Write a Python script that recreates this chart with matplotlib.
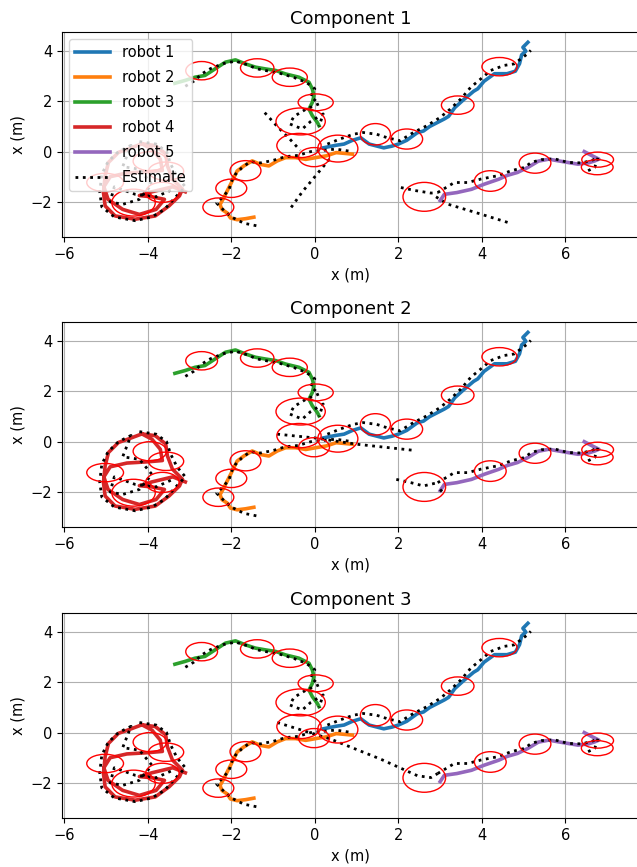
import matplotlib
matplotlib.use("Agg")
import matplotlib.pyplot as plt
from matplotlib.patches import Ellipse

robot1_x = [0.2, 0.5, 0.7, 0.9, 1.1, 1.3, 1.65, 1.85, 2.0, 2.2, 2.45, 2.6, 2.75, 3.1, 3.2, 3.35, 3.55, 3.8, 3.9, 4.05, 4.3, 4.6, 4.8, 4.9, 4.95, 5.05, 4.98, 5.1]
robot1_y = [0.15, 0.25, 0.3, 0.45, 0.55, 0.3, 0.15, 0.22, 0.3, 0.45, 0.75, 0.82, 1.0, 1.3, 1.4, 1.75, 2.05, 2.4, 2.5, 2.8, 3.1, 3.1, 3.2, 3.5, 3.85, 4.0, 4.15, 4.35]

robot2_x = [-1.46, -1.66, -1.86, -2.02, -2.1, -2.22, -2.27, -2.18, -2.1, -2.02, -1.94, -1.86, -1.7, -1.5, -1.3, -1.1, -0.9, -0.7, -0.46, -0.22, 0.02, 0.27, 0.51, 0.9]
robot2_y = [-2.61, -2.67, -2.71, -2.64, -2.44, -2.31, -2.11, -1.84, -1.57, -1.31, -1.04, -0.77, -0.57, -0.37, -0.51, -0.57, -0.37, -0.24, -0.24, -0.31, -0.24, -0.17, -0.04, -0.1]

robot3_x = [-3.35, -3.11, -2.87, -2.63, -2.39, -2.14, -1.9, -1.66, -1.42, -1.18, -0.94, -0.7, -0.38, -0.14, -0.06, -0.02, -0.06, -0.14, -0.06, 0.06, 0.1]
robot3_y = [2.72, 2.83, 2.96, 3.03, 3.29, 3.56, 3.65, 3.49, 3.36, 3.29, 3.23, 3.09, 2.96, 2.76, 2.49, 2.23, 1.96, 1.69, 1.43, 1.16, 1.03]

robot4_x = [-4.14, -3.82, -3.57, -3.53, -3.41, -3.17, -3.24, -3.49, -3.82, -4.3, -4.78, -5.02, -5.06, -5.02, -4.94, -4.7, -4.46, -4.14,
            -3.9, -3.7, -3.65, -4.0, -4.5, -4.9, -5.05, -4.95, -4.6, -4.2, -3.8, -3.6, -3.9, -4.2, -3.9, -3.4, -3.1]
robot4_y = [0.31, 0.24, -0.09, -0.56, -1.09, -1.49, -1.76, -2.16, -2.56, -2.69, -2.56, -2.16, -1.63, -0.96, -0.43, -0.03, 0.11, 0.31,
            0.1, -0.3, -0.75, -0.8, -0.85, -1.0, -1.4, -1.9, -2.3, -2.5, -2.3, -1.9, -1.8, -1.75, -1.6, -1.4, -1.6]

robot5_x = [3.0, 3.1, 3.4, 3.75, 4.05, 4.4, 4.6, 4.85, 5.1, 5.35, 5.6, 5.8, 6.05, 6.3, 6.55, 6.7, 6.8, 6.62, 6.45]
robot5_y = [-1.95, -1.7, -1.63, -1.5, -1.3, -1.1, -0.95, -0.83, -0.63, -0.38, -0.3, -0.36, -0.43, -0.5, -0.45, -0.37, -0.3, -0.15, 0.0]

# estimated tracks (shared by all components)
est1_x = [0.3, 0.6, 0.92, 1.16, 1.48, 1.72, 2.04, 2.2, 2.36, 2.68, 3.0, 3.24, 3.49, 3.6, 3.73, 3.97, 4.21, 4.53, 4.77, 4.93, 5.09, 5.17]
est1_y = [0.3, 0.5, 0.69, 0.76, 0.69, 0.56, 0.43, 0.6, 0.76, 1.03, 1.36, 1.69, 2.09, 2.3, 2.56, 2.89, 3.23, 3.43, 3.49, 3.69, 3.89, 4.03]

est2_x = [-1.4, -1.7, -2.0, -2.2, -2.35, -2.2, -2.05, -2.0, -1.9, -1.75, -1.55, -1.3, -1.0, -0.7, -0.4, -0.1, 0.2, 0.5, 0.9]
est2_y = [-2.95, -2.85, -2.6, -2.3, -2.05, -1.8, -1.5, -1.2, -0.9, -0.65, -0.4, -0.45, -0.35, -0.2, -0.15, 0.0, 0.05, 0.1, 0.0]

est3_x = [-3.1, -2.9, -2.7, -2.5, -2.2, -1.9, -1.6, -1.4, -1.1, -0.8, -0.5, -0.2, 0.0, -0.1, 0.1, -0.2, -0.5, -0.6, -0.3, -0.1, 0.2, 0.1]
est3_y = [2.6, 2.8, 3.1, 3.3, 3.5, 3.6, 3.45, 3.3, 3.2, 3.1, 2.95, 2.75, 2.5, 2.2, 1.9, 1.7, 1.4, 1.1, 0.9, 1.2, 1.5, 1.0]

est4_x = [-4.2, -3.8, -3.55, -3.45, -3.3, -3.1, -3.3, -3.6, -3.9, -4.3, -4.8, -5.1, -5.15, -5.1, -4.95, -4.7, -4.4,
          -4.6, -4.2, -3.9, -4.2, -4.6, -4.9, -4.8, -4.3, -3.8, -3.4]
est4_y = [0.4, 0.3, 0.0, -0.5, -1.0, -1.4, -1.75, -2.3, -2.6, -2.75, -2.6, -2.2, -1.6, -0.9, -0.4, 0.0, 0.25,
          -0.6, -0.7, -1.3, -1.9, -2.1, -2.0, -1.4, -1.7, -1.8, -1.5]

est5_x = [2.94, 3.34, 3.66, 3.98, 4.38, 4.7, 5.02, 5.18, 5.42, 5.74, 6.06, 6.38, 6.62, 6.78, 6.7, 6.54]
est5_y = [-1.63, -1.23, -1.23, -1.09, -0.96, -0.76, -0.63, -0.43, -0.32, -0.29, -0.43, -0.45, -0.36, -0.23, -0.63, -0.76]

# estimate pieces that differ per component
stray1 = [
    ([-1.2, -0.9, -0.6, -0.35], [1.55, 1.0, 0.5, 0.05]),
    ([0.35, 0.0, -0.3, -0.6], [-0.3, -1.0, -1.6, -2.3]),
    ([2.06, 2.4, 2.78, 2.94], [-1.43, -1.55, -1.65, -1.63]),
    ([2.9, 3.18, 3.9, 4.62], [-1.8, -2.09, -2.45, -2.82]),
]
stray2 = [
    ([-0.9, 0.0, 1.0, 2.4], [0.3, 0.15, -0.1, -0.35]),
    ([1.95, 2.3, 2.6, 2.94], [-1.5, -1.63, -1.76, -1.63]),
    ([3.0, 3.1], [-1.9, -2.1]),
]
stray3 = [
    ([-0.9, 0.38, 1.58, 2.46, 2.78, 2.94], [0.4, -0.26, -1.06, -1.72, -1.79, -1.63]),
]

# covariance ellipses: centre x, centre y, width, height
ell_x = [-2.71, -1.38, -0.6, 0.02, -0.34, -0.38, -0.02, 0.55, -1.66, -2.0, -2.31,
         1.45, 2.2, 3.42, 4.42, 2.62, 4.2, 5.27, 6.77, 6.76,
         -5.02, -3.95, -3.56, -3.65, -4.34]
ell_y = [3.22, 3.33, 2.96, 1.96, 1.2, 0.24, -0.22, 0.12, -0.76, -1.46, -2.21,
         0.69, 0.5, 1.85, 3.38, -1.8, -1.17, -0.46, -0.32, -0.62,
         -1.23, -0.38, -0.78, -1.62, -2.03]
ell_w = [0.76, 0.8, 0.84, 0.84, 1.18, 1.06, 0.74, 0.96, 0.74, 0.74, 0.74,
         0.72, 0.76, 0.78, 0.84, 1.02, 0.76, 0.76, 0.76, 0.76,
         0.88, 0.8, 0.84, 0.8, 1.04]
ell_h = [0.73, 0.73, 0.73, 0.67, 1.07, 0.97, 0.76, 1.07, 0.8, 0.73, 0.73,
         0.85, 0.8, 0.73, 0.73, 1.15, 0.82, 0.8, 0.6, 0.6,
         0.73, 0.76, 0.73, 0.8, 1.07]

tracks = [(robot1_x, robot1_y), (robot2_x, robot2_y), (robot3_x, robot3_y),
          (robot4_x, robot4_y), (robot5_x, robot5_y)]
estimates = [(est1_x, est1_y), (est2_x, est2_y), (est3_x, est3_y),
             (est4_x, est4_y), (est5_x, est5_y)]
strays = [stray1, stray2, stray3]
colors = ["#1f77b4", "#ff7f0e", "#2ca02c", "#d62728", "#9467bd"]

fig = plt.figure(figsize=(6.37, 8.67), dpi=100)
bottoms = [0.7266, 0.392, 0.0565]

for k in range(3):
    ax = fig.add_axes([0.0975, bottoms[k], 0.905, 0.2365])
    for i, (tx, ty) in enumerate(tracks):
        ax.plot(tx, ty, color=colors[i], lw=2.6, label="robot %d" % (i + 1), zorder=2)
    for j, (ex, ey) in enumerate(estimates):
        ax.plot(ex, ey, color="black", ls=":", lw=2,
                label="Estimate" if j == 0 else None, zorder=3)
    for sx, sy in strays[k]:
        ax.plot(sx, sy, color="black", ls=":", lw=2, zorder=3)
    for cx, cy, w, h in zip(ell_x, ell_y, ell_w, ell_h):
        ax.add_patch(Ellipse((cx, cy), w, h, fill=False, edgecolor="red", lw=1, zorder=4))
    ax.set_xlim(-6.05, 7.75)
    ax.set_ylim(-3.4, 4.76)
    ax.set_xticks([-6, -4, -2, 0, 2, 4, 6])
    ax.set_yticks([-2, 0, 2, 4])
    ax.tick_params(labelsize=10.5)
    ax.grid(True)
    ax.set_axisbelow(True)
    ax.set_xlabel("x (m)", fontsize=10.5)
    ax.set_ylabel("x (m)", fontsize=10.5)
    ax.set_title("Component %d" % (k + 1), fontsize=13)
    if k == 0:
        ax.legend(loc="upper left", fontsize=10.5, handlelength=2.4, labelspacing=0.68)

fig.savefig("out.png", dpi=100)
